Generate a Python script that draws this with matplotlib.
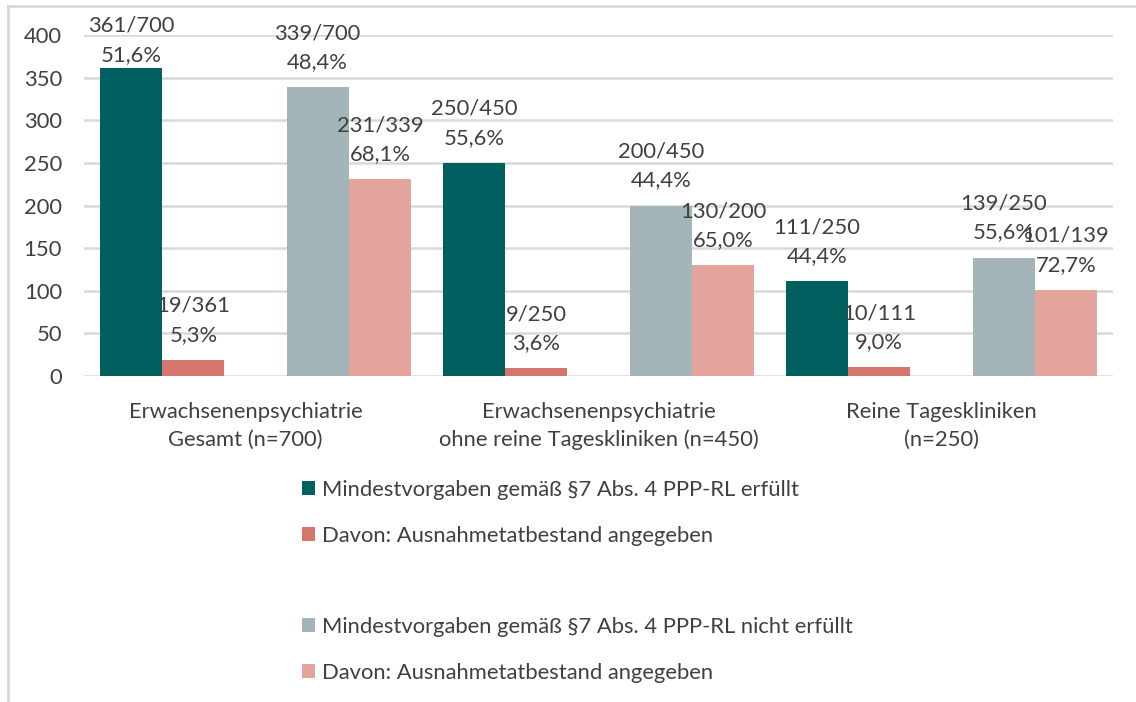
import matplotlib
matplotlib.use("Agg")
import matplotlib.pyplot as plt
from matplotlib.patches import Patch
import numpy as np

plt.rcParams['font.family'] = ['Lato', 'DejaVu Sans']

categories = [["Erwachsenenpsychiatrie", "Gesamt (n=700)"],
              ["Erwachsenenpsychiatrie", "ohne reine Tageskliniken (n=450)"],
              ["Reine Tageskliniken", "(n=250)"]]
series_names = ["Mindestvorgaben gemäß §7 Abs. 4 PPP-RL erfüllt",
                "Davon: Ausnahmetatbestand angegeben",
                "",
                "Mindestvorgaben gemäß §7 Abs. 4 PPP-RL nicht erfüllt",
                "Davon: Ausnahmetatbestand angegeben"]
erfuellt = [361, 250, 111]
erfuellt_ausn = [19, 9, 10]
nicht_erfuellt = [339, 200, 139]
nicht_erfuellt_ausn = [231, 130, 101]
lab_erfuellt = [("361/700", "51,6%"), ("250/450", "55,6%"), ("111/250", "44,4%")]
lab_erfuellt_ausn = [("19/361", "5,3%"), ("9/250", "3,6%"), ("10/111", "9,0%")]
lab_nicht = [("339/700", "48,4%"), ("200/450", "44,4%"), ("139/250", "55,6%")]
lab_nicht_ausn = [("231/339", "68,1%"), ("130/200", "65,0%"), ("101/139", "72,7%")]
yticks = [0, 50, 100, 150, 200, 250, 300, 350, 400]

colors = ["#005F5F", "#D4766C", None, "#A3B5B9", "#E3A59B"]
txt = "#404040"
grid = "#D9D9D9"
fs = 15.8

W, H = 1136, 702
fig = plt.figure(figsize=(W / 100, H / 100), dpi=100)
ax = fig.add_axes([84 / W, 1 - 376 / H, (1113 - 84) / W, (376 - 35) / H])

x = np.arange(len(categories))
bw = 311 / 5 / 343
data = [erfuellt, erfuellt_ausn, None, nicht_erfuellt, nicht_erfuellt_ausn]
labels = [lab_erfuellt, lab_erfuellt_ausn, None, lab_nicht, lab_nicht_ausn]

ax.set_xlim(-0.5, len(categories) - 0.5)
ax.set_ylim(0, 400)
ax.set_yticks(yticks)
ax.set_yticklabels([str(v) for v in yticks], fontsize=fs, color=txt)
ax.tick_params(axis='y', length=0, pad=15.8)
ax.tick_params(axis='x', length=0)
ax.set_xticks([])
for s in ax.spines.values():
    s.set_visible(False)
ax.set_axisbelow(True)
for v in yticks:
    ax.axhline(v, color=grid, lw=1.8, zorder=0)

fig.canvas.draw()
for i, (vals, labs) in enumerate(zip(data, labels)):
    if vals is None:
        continue
    pos = x + (i - 2) * bw
    ax.bar(pos, vals, width=bw, color=colors[i], zorder=2)
    for p, v, (l1, l2) in zip(pos, vals, labs):
        top_px = ax.transData.transform((p, v))[1]
        off2 = 25
        off1 = 54
        # keep top line inside the chart area
        max_top = H - 26
        if top_px + off1 > max_top:
            shift = top_px + off1 - max_top
            off1 -= shift
            off2 -= shift
        ax.annotate(l2, (p, v), xytext=(0, off2), textcoords='offset pixels',
                    ha='center', va='center', fontsize=fs, color=txt,
                    annotation_clip=False, zorder=3)
        ax.annotate(l1, (p, v), xytext=(0, off1), textcoords='offset pixels',
                    ha='center', va='center', fontsize=fs, color=txt,
                    annotation_clip=False, zorder=3)

cat_dx = [-10, 0, 0]
for xi, (c1, c2), dx in zip(x, categories, cat_dx):
    ax.annotate(c1, (xi, 0), xytext=(dx, -36), textcoords='offset pixels',
                ha='center', va='center', fontsize=fs, color=txt, annotation_clip=False)
    ax.annotate(c2, (xi, 0), xytext=(dx, -64), textcoords='offset pixels',
                ha='center', va='center', fontsize=fs, color=txt, annotation_clip=False)

handles = []
for c, n in zip(colors, series_names):
    if c is None:
        handles.append(Patch(facecolor='none', edgecolor='none', label=n))
    else:
        handles.append(Patch(facecolor=c, edgecolor='none', label=n))
leg = fig.legend(handles=handles, loc='upper left', bbox_to_anchor=(302 / W, 1 - 480 / H),
                 frameon=False, fontsize=fs, handlelength=0.59, handleheight=0.59,
                 handletextpad=0.32, labelspacing=1.17, borderpad=0, borderaxespad=0,
                 labelcolor=txt)

# chart frame (top and left edges visible)
fig.add_artist(plt.Line2D([7.5 / W, 7.5 / W], [0, 1 - 6 / H], transform=fig.transFigure,
                          color=grid, lw=2))
fig.add_artist(plt.Line2D([7.5 / W, 1], [1 - 6 / H, 1 - 6 / H], transform=fig.transFigure,
                          color=grid, lw=2))

fig.savefig("out.png", dpi=100)
